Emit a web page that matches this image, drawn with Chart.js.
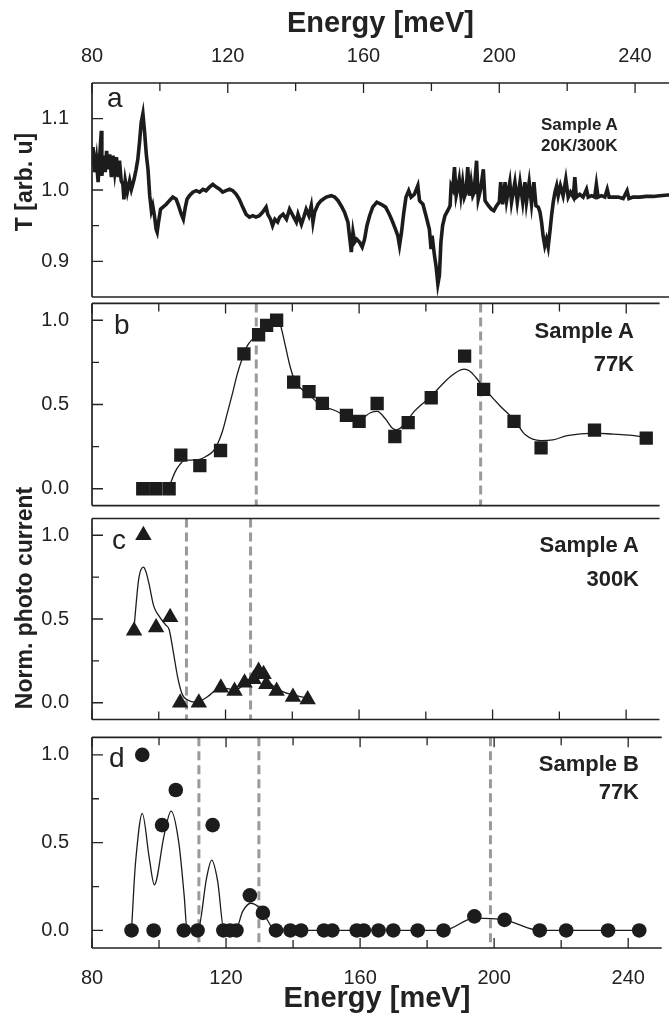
<!DOCTYPE html>
<html>
<head>
<meta charset="utf-8">
<title>Transmission and photo current spectra</title>
<script src="https://cdn.jsdelivr.net/npm/chart.js@4.4.1/dist/chart.umd.min.js"></script>
<style>
  html, body { margin: 0; padding: 0; background: #fff; overflow: hidden; }
  #wrap { position: relative; width: 669px; height: 1013px; overflow: hidden;
          font-family: "Liberation Sans", Arial, sans-serif; color: #222; }
  #wrap canvas { position: absolute; left: 0; }
  .txt { position: absolute; white-space: nowrap; line-height: 1; }
  .lbl { font-size: 28px; }
  .smp { font-size: 22px; font-weight: bold; }
  .smpA { font-size: 17px; font-weight: bold; }
  .ytitle { font-size: 23px; font-weight: bold; transform: translate(-50%, -50%) rotate(-90deg); }
</style>
</head>
<body>
<div id="wrap">
  <canvas id="panelA" width="669" height="300" style="top:0px;width:669px;height:300px"></canvas>
  <canvas id="panelB" width="669" height="221" style="top:294px;width:669px;height:221px"></canvas>
  <canvas id="panelC" width="669" height="220" style="top:509px;width:669px;height:220px"></canvas>
  <canvas id="panelD" width="669" height="283" style="top:730px;width:669px;height:283px"></canvas>

  <div class="txt ytitle" style="left:23.5px;top:182px">T [arb. u]</div>
  <div class="txt ytitle" style="left:23.5px;top:598px">Norm. photo current</div>

  <div class="txt lbl" style="left:107px;top:84px">a</div>
  <div class="txt lbl" style="left:114px;top:311px">b</div>
  <div class="txt lbl" style="left:112px;top:526px">c</div>
  <div class="txt lbl" style="left:109px;top:744px">d</div>

  <div class="txt smpA" style="left:541px;top:115.6px">Sample A</div>
  <div class="txt smpA" style="left:541px;top:136.6px">20K/300K</div>
  <div class="txt smp" style="right:35px;top:320.4px">Sample A</div>
  <div class="txt smp" style="right:35px;top:353.4px">77K</div>
  <div class="txt smp" style="right:30px;top:534.4px">Sample A</div>
  <div class="txt smp" style="right:30px;top:568.4px">300K</div>
  <div class="txt smp" style="right:30px;top:753.4px">Sample B</div>
  <div class="txt smp" style="right:30px;top:781.4px">77K</div>
</div>

<script>
// axis ticks
const xMajor = [80, 120, 160, 200, 240];
const xMinor = [100, 140, 180, 220];
const yMajorA = [0.9, 1.0, 1.1];
const yMinorA = [0.95, 1.05];
const yMajorPC = [0, 0.5, 1.0];
const yMinorPC = [0.25, 0.75];

// panel a: transmission 20K/300K
const specA_x = [80.0, 80.3, 80.8, 81.3, 81.8, 82.3, 82.75, 82.9, 83.5, 83.9, 84.3, 84.7, 85.2, 85.7, 86.2, 86.7, 87.2, 87.7, 88.1, 88.6,
  89.1, 89.4, 89.8, 90.4, 91.1, 91.6, 92.4, 93.0, 93.5, 94.0, 94.5, 95.0, 95.5, 96.0, 96.5, 97.0, 97.5, 97.9, 98.4, 98.9,
  99.2, 99.6, 100.2, 100.9, 101.9, 102.8, 103.8, 104.8, 105.5, 106.3, 106.9, 107.5, 108.0, 108.7, 109.7, 110.7, 111.7, 112.7, 113.6, 114.6,
  115.6, 116.6, 117.6, 118.5, 119.5, 120.5, 121.5, 122.5, 123.4, 124.4, 125.4, 126.4, 127.4, 128.3, 129.3, 130.3, 131.3, 131.8, 132.6, 133.2,
  133.9, 134.7, 135.3, 136.3, 137.3, 138.2, 139.2, 140.2, 140.7, 141.7, 142.4, 143.1, 143.9, 144.6, 145.1, 145.6, 146.6, 147.5, 149.0, 150.5,
  151.5, 152.5, 153.4, 154.4, 155.4, 155.9, 156.4, 156.9, 157.4, 158.0, 158.8, 159.6, 160.3, 161.0, 161.8, 162.7, 163.9, 165.2, 166.5, 167.6,
  168.6, 169.4, 170.1, 170.6, 171.2, 171.8, 172.5, 173.3, 174.0, 175.0, 176.0, 176.5, 177.5, 178.4, 179.4, 179.9, 180.2, 180.9, 181.4, 181.9,
  182.35, 182.8, 183.3, 184.0, 184.8, 185.5, 185.8, 186.3, 186.8, 187.3, 187.7, 188.2, 188.7, 189.2, 189.7, 190.2, 190.7, 191.2, 191.7, 192.2,
  192.65, 192.8, 193.3, 193.8, 194.5, 195.3, 195.8, 196.8, 197.7, 198.4, 199.2, 200.0, 200.4, 201.0, 201.7, 202.15, 203.1, 203.6, 204.6, 205.3,
  206.1, 206.9, 207.55, 208.0, 208.8, 209.5, 210.2, 210.8, 211.5, 212.0, 212.45, 212.9, 213.4, 213.9, 214.4, 214.9, 215.4, 215.9, 216.4, 216.9,
  217.35, 218.0, 218.8, 219.6, 220.3, 221.0, 221.8, 222.25, 222.7, 223.7, 224.7, 225.7, 226.2, 227.2, 228.1, 228.6, 229.1, 230.1, 231.1, 231.8,
  232.35, 233.5, 235.0, 236.5, 237.65, 238.2, 239.4, 241.4, 243.3, 245.3, 247.3, 249.7, 250.0];
const specA_y = [1.034, 1.060, 1.025, 1.043, 1.011, 1.050, 1.083, 1.020, 1.048, 1.025, 1.055, 1.029, 1.050, 1.018, 1.048, 1.025, 1.046, 1.018, 1.041, 1.013,
  1.008, 0.987, 1.013, 0.997, 1.013, 1.001, 1.015, 1.029, 1.043, 1.067, 1.095, 1.107, 1.081, 1.050, 1.029, 0.992, 0.971, 0.978, 0.964, 0.945,
  0.941, 0.955, 0.973, 0.976, 0.980, 0.985, 0.990, 0.987, 0.978, 0.966, 0.959, 0.976, 0.987, 0.992, 0.997, 0.999, 0.997, 1.001, 0.999, 1.004,
  1.008, 1.004, 1.001, 0.997, 0.999, 1.001, 0.999, 0.994, 0.987, 0.976, 0.966, 0.962, 0.964, 0.962, 0.964, 0.969, 0.976, 0.966, 0.959, 0.950,
  0.959, 0.955, 0.962, 0.966, 0.959, 0.973, 0.964, 0.955, 0.966, 0.952, 0.962, 0.973, 0.964, 0.978, 0.955, 0.969, 0.980, 0.985, 0.990, 0.992,
  0.990, 0.985, 0.978, 0.969, 0.955, 0.934, 0.913, 0.941, 0.927, 0.931, 0.927, 0.920, 0.931, 0.950, 0.964, 0.976, 0.983, 0.980, 0.976, 0.966,
  0.955, 0.945, 0.936, 0.922, 0.941, 0.966, 0.990, 0.999, 0.990, 0.994, 1.006, 0.985, 0.980, 0.964, 0.945, 0.917, 0.936, 0.908, 0.892, 0.868,
  0.880, 0.927, 0.950, 0.964, 0.971, 0.978, 1.006, 1.001, 1.032, 0.992, 1.001, 1.015, 0.992, 1.011, 0.990, 0.997, 1.032, 0.992, 1.011, 0.992,
  0.997, 1.011, 1.041, 0.987, 1.001, 1.029, 0.985, 0.978, 0.973, 0.971, 0.978, 0.983, 1.011, 0.980, 1.011, 0.985, 1.011, 0.983, 1.011, 0.983,
  1.011, 0.983, 1.011, 0.983, 1.011, 0.980, 1.011, 0.978, 0.976, 0.969, 0.955, 0.936, 0.922, 0.931, 0.920, 0.941, 0.964, 0.983, 0.997, 1.006,
  0.992, 1.006, 0.992, 1.015, 0.990, 0.997, 0.990, 1.018, 0.990, 0.994, 0.990, 1.001, 0.990, 0.992, 0.990, 1.008, 0.990, 0.992, 0.990, 1.001,
  0.990, 0.990, 0.990, 0.988, 0.999, 0.988, 0.990, 0.990, 0.991, 0.991, 0.992, 0.993, 0.993];

// panel b: sample A, 77K
const sqB_x = [95.2, 99.1, 103.1, 106.6, 112.3, 118.5, 125.5, 129.9, 132.3, 135.3, 140.4, 145.0, 149.0, 156.2, 160.0, 165.4, 170.7, 174.7, 181.6, 191.6, 197.3, 206.4, 214.5, 230.5, 246.0];
const sqB_y = [0, 0, 0, 0.20, 0.137, 0.227, 0.80, 0.914, 0.97, 1.0, 0.633, 0.577, 0.507, 0.436, 0.40, 0.506, 0.31, 0.393, 0.54, 0.787, 0.59, 0.40, 0.243, 0.348, 0.30];
const fitB_x = [102.9, 104.9, 106.4, 107.8, 109.8, 112.3, 114.2, 116.2, 117.65, 119.1, 120.6, 122.1, 123.5, 125.0, 126.5, 128.4, 130.4, 132.8, 134.8, 136.3,
  137.7, 139.2, 140.7, 142.6, 145.1, 148.0, 153.3, 156.2, 160.0, 163.4, 165.4, 167.8, 169.9, 171.2, 173.4, 176.5, 181.6, 185.9, 189.0, 191.5,
  193.0, 195.0, 197.3, 202.3, 206.4, 209.8, 214.5, 218.0, 222.3, 230.5, 236.1, 241.0, 246.2];
const fitB_y = [0.0, 0.10, 0.146, 0.17, 0.17, 0.174, 0.193, 0.221, 0.268, 0.343, 0.455, 0.567, 0.68, 0.773, 0.848, 0.895, 0.942, 0.989, 1.007, 0.979,
  0.867, 0.736, 0.642, 0.595, 0.558, 0.502, 0.46, 0.427, 0.41, 0.451, 0.459, 0.417, 0.361, 0.35, 0.378, 0.459, 0.55, 0.64, 0.69, 0.71,
  0.70, 0.66, 0.60, 0.49, 0.41, 0.32, 0.286, 0.29, 0.315, 0.33, 0.324, 0.318, 0.305];

// panel c: sample A, 300K
const triC_x = [92.6, 95.4, 99.2, 103.4, 106.4, 112.0, 118.6, 122.7, 125.7, 128.4, 129.9, 131.4, 132.2, 135.3, 140.2, 144.6];
const triC_y = [0.43, 1.0, 0.45, 0.51, 0.0, 0.0, 0.09, 0.07, 0.12, 0.14, 0.19, 0.17, 0.11, 0.07, 0.035, 0.02];
const fitC_x = [92.6, 94.0, 95.4, 96.2, 97.1, 98.5, 100.0, 102.0, 103.1, 104.4, 105.7, 107.1, 108.8, 110.8, 112.3, 114.7, 117.6, 120.6, 122.7, 125.7,
  128.4, 129.9, 131.4, 134.3, 137.3, 140.2, 144.6];
const fitC_y = [0.45, 0.74, 0.81, 0.78, 0.708, 0.577, 0.52, 0.466, 0.437, 0.298, 0.149, 0.047, 0.015, 0.004, 0.009, 0.037, 0.08, 0.084, 0.074, 0.11,
  0.149, 0.177, 0.155, 0.10, 0.065, 0.047, 0.028];

// panel d: sample B, 77K
const dotD_x = [91.8, 95.0, 98.4, 100.9, 105.0, 107.4, 111.5, 116.0, 119.2, 121.2, 123.1, 127.1, 131.0, 134.9, 139.2, 142.4, 149.2, 151.7, 159.0, 161.1,
  165.5, 169.9, 177.2, 184.9, 194.1, 203.1, 213.6, 221.5, 234.0, 243.3];
const dotD_y = [0, 1.0, 0, 0.6, 0.8, 0, 0, 0.6, 0, 0, 0, 0.2, 0.1, 0, 0, 0, 0, 0, 0, 0,
  0, 0, 0, 0, 0.08, 0.06, 0, 0, 0, 0];
const fitD_x = [91.8, 92.6, 93.1, 95.0, 97.1, 98.6, 101.5, 103.6, 105.9, 107.5, 108.4, 111.6, 114.2, 115.7, 117.5, 119.4, 122.8, 125.0, 127.4, 129.9,
  131.1, 134.8, 184.9, 194.1, 203.1, 213.6, 243.3];
const fitD_y = [0, 0.28, 0.41, 0.667, 0.41, 0.26, 0.54, 0.68, 0.50, 0.20, 0, 0, 0.30, 0.40, 0.28, 0, 0, 0.11, 0.155, 0.13,
  0.10, 0, 0, 0.07, 0.06, 0, 0];

// grey dashed guide lines
const dashB = [129.2, 196.4];
const dashC = [108.3, 127.5];
const dashD = [111.9, 129.8, 198.9];

const ink = '#1c1c1c';
Chart.defaults.font.family = '"Liberation Sans", Arial, sans-serif';
Chart.defaults.color = '#222';

function pairs(xs, ys) {
  return xs.map((x, i) => ({ x: x, y: ys[i] }));
}

// frame and inward ticks
const framePlugin = {
  id: 'frame',
  afterDraw(chart, args, o) {
    const { ctx, chartArea: a, scales: { x, y } } = chart;
    ctx.save();
    ctx.strokeStyle = '#222';
    ctx.lineWidth = 1.7;
    ctx.beginPath();
    ctx.moveTo(a.left, a.top); ctx.lineTo(a.left, a.bottom);
    ctx.moveTo(a.left, a.top); ctx.lineTo(a.right, a.top);
    ctx.moveTo(a.left, a.bottom); ctx.lineTo(a.right, a.bottom);
    ctx.stroke();

    ctx.lineWidth = 1.3;
    ctx.beginPath();
    o.yMajor.forEach(v => { const p = y.getPixelForValue(v); ctx.moveTo(a.left, p); ctx.lineTo(a.left + 11, p); });
    o.yMinor.forEach(v => { const p = y.getPixelForValue(v); ctx.moveTo(a.left, p); ctx.lineTo(a.left + 7, p); });
    if (o.top) {
      xMajor.forEach(v => { const p = x.getPixelForValue(v); ctx.moveTo(p, a.top); ctx.lineTo(p, a.top + 10); });
      xMinor.forEach(v => { const p = x.getPixelForValue(v); ctx.moveTo(p, a.top); ctx.lineTo(p, a.top + 8); });
    }
    if (o.bottom) {
      xMajor.forEach(v => { const p = x.getPixelForValue(v); ctx.moveTo(p, a.bottom); ctx.lineTo(p, a.bottom - 10); });
      xMinor.forEach(v => { const p = x.getPixelForValue(v); ctx.moveTo(p, a.bottom); ctx.lineTo(p, a.bottom - 8); });
    }
    ctx.stroke();
    ctx.restore();
  }
};

// vertical grey dashed lines
const dashPlugin = {
  id: 'dashes',
  beforeDatasetsDraw(chart, args, o) {
    if (!o.at) return;
    const { ctx, chartArea: a, scales: { x } } = chart;
    ctx.save();
    ctx.strokeStyle = '#9a9a9a';
    ctx.lineWidth = 3;
    ctx.setLineDash([9, 5]);
    o.at.forEach(e => {
      const p = x.getPixelForValue(e);
      ctx.beginPath();
      ctx.moveTo(p, a.top);
      ctx.lineTo(p, a.bottom);
      ctx.stroke();
    });
    ctx.restore();
  }
};

const tickFont = { size: 20 };

function xAxis(pos) {
  const shown = pos !== null;
  return {
    type: 'linear',
    position: shown ? pos : 'bottom',
    display: shown,
    min: 80,
    max: 250,
    grid: { display: false },
    border: { display: false },
    afterBuildTicks: s => { s.ticks = xMajor.map(v => ({ value: v })); },
    afterFit: s => {
      if (pos === 'top') s.height = 83;
      if (pos === 'bottom') s.height = 65;
      s.paddingLeft = 0;
      s.paddingRight = 0;
    },
    ticks: { font: tickFont, color: '#222', maxRotation: 0, autoSkip: false, padding: pos === 'top' ? 6.5 : 10 },
    title: {
      display: shown,
      text: 'Energy [meV]',
      color: '#222',
      font: { size: 29, weight: 'bold', lineHeight: 1 },
      padding: pos === 'top' ? { top: 9.5, bottom: 0 } : { top: 0, bottom: 0 }
    }
  };
}

function yAxis(min, max, major) {
  return {
    type: 'linear',
    min: min,
    max: max,
    grid: { display: false },
    border: { display: false },
    afterBuildTicks: s => { s.ticks = major.map(v => ({ value: v })); },
    afterFit: s => { s.width = 92; s.paddingTop = 0; s.paddingBottom = 0; },
    ticks: { font: tickFont, color: '#222', padding: 15, callback: v => Number(v).toFixed(1) }
  };
}

function makePanel(id, datasets, o) {
  const ctx = document.getElementById(id).getContext('2d');
  return new Chart(ctx, {
    type: 'scatter',
    data: { datasets: datasets },
    options: {
      responsive: false,
      animation: false,
      events: [],
      layout: { padding: o.padding },
      plugins: {
        legend: { display: false },
        tooltip: { enabled: false },
        frame: { yMajor: o.yMajor, yMinor: o.yMinor, top: o.topTicks, bottom: o.bottomTicks },
        dashes: { at: o.dashes }
      },
      scales: { x: xAxis(o.xPos), y: o.y }
    },
    plugins: [framePlugin, dashPlugin]
  });
}

function fitLine(xs, ys) {
  return {
    data: pairs(xs, ys), showLine: true, borderColor: ink, borderWidth: 1.3,
    pointRadius: 0, cubicInterpolationMode: 'monotone', order: 2
  };
}

function markers(xs, ys, style, r) {
  return {
    data: pairs(xs, ys), showLine: false, pointStyle: style, pointRadius: r,
    backgroundColor: ink, borderColor: ink, borderWidth: 0, order: 1
  };
}

document.addEventListener('DOMContentLoaded', function () {
  // a - transmission
  makePanel('panelA', [{
    data: pairs(specA_x, specA_y), showLine: true, borderColor: ink, borderWidth: 3.6,
    pointRadius: 0, tension: 0
  }], {
    padding: { left: 0, right: 0, top: 0, bottom: 3 },
    xPos: 'top', y: yAxis(0.85, 1.15, yMajorA),
    yMajor: yMajorA, yMinor: yMinorA, topTicks: true, bottomTicks: false, dashes: null
  });

  // b - sample A 77K
  makePanel('panelB', [markers(sqB_x, sqB_y, 'rect', 9.4), fitLine(fitB_x, fitB_y)], {
    padding: { left: 0, right: 0, top: 3, bottom: 3 },
    xPos: null, y: yAxis(-0.1, 1.1, yMajorPC),
    yMajor: yMajorPC, yMinor: yMinorPC, topTicks: true, bottomTicks: false, dashes: dashB
  });

  // c - sample A 300K
  makePanel('panelC', [markers(triC_x, triC_y, 'triangle', 9.5), fitLine(fitC_x, fitC_y)], {
    padding: { left: 0, right: 0, top: 3, bottom: 3 },
    xPos: null, y: yAxis(-0.1, 1.1, yMajorPC),
    yMajor: yMajorPC, yMinor: yMinorPC, topTicks: false, bottomTicks: true, dashes: dashC
  });

  // d - sample B 77K
  makePanel('panelD', [markers(dotD_x, dotD_y, 'circle', 7.3), fitLine(fitD_x, fitD_y)], {
    padding: { left: 0, right: 0, top: 3, bottom: 0 },
    xPos: 'bottom', y: yAxis(-0.1, 1.1, yMajorPC),
    yMajor: yMajorPC, yMinor: yMinorPC, topTicks: true, bottomTicks: true, dashes: dashD
  });
});
</script>
</body>
</html>
